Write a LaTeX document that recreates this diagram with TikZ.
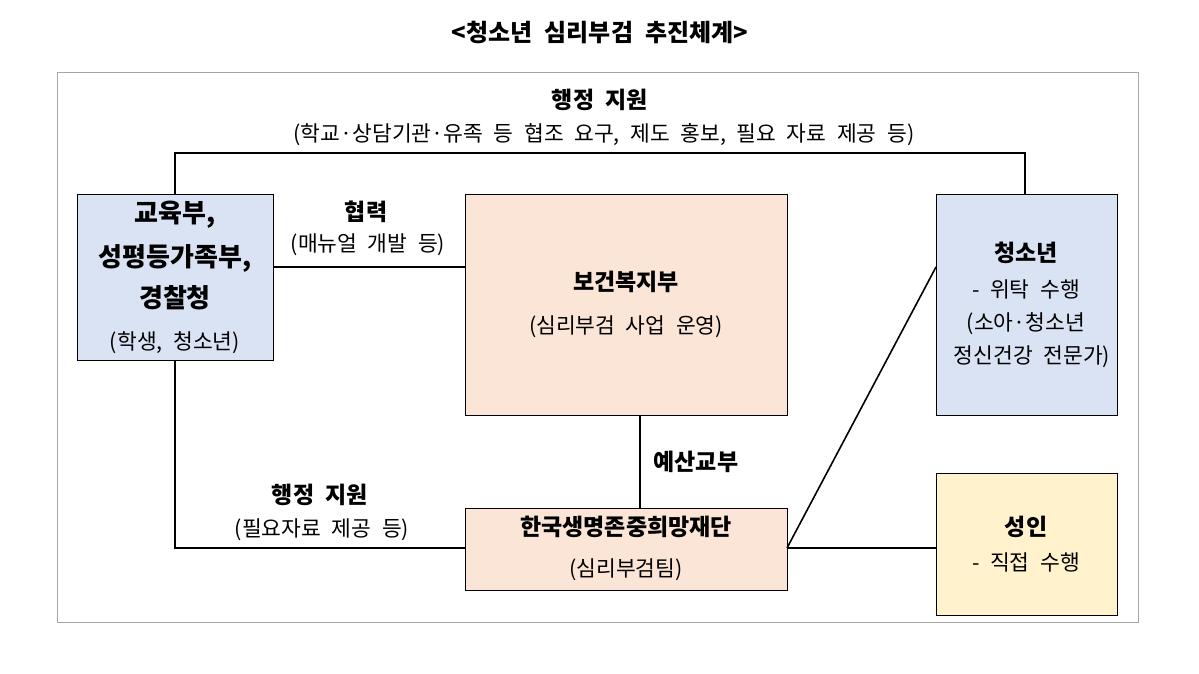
\documentclass[tikz,border=0pt]{standalone}
\usepackage{fontspec}
\setmainfont[WordSpace=2.2]{Noto Sans CJK KR}
\begin{document}
\begin{tikzpicture}[x=1pt,y=-1pt,
  box/.style={draw=black,line width=0.8pt},
  t/.style={font=\fontsize{21.5}{23}\selectfont},
  tb/.style={font=\fontsize{23}{25}\selectfont\bfseries},
  tbb/.style={font=\fontsize{26}{28}\selectfont\bfseries},
  ln/.style={line width=1.6pt}]
\useasboundingbox (0,0) rectangle (1199,673);
\definecolor{bl}{HTML}{DAE3F3}\definecolor{pc}{HTML}{FBE5D6}\definecolor{yl}{HTML}{FFF2CC}
\draw[gray!70] (57,72) rectangle (1138,622);
\node[font=\fontsize{24}{26}\selectfont\bfseries] (title) at (600,33) {<청소년 심리부검 추진체계>};
\draw[box,fill=bl] (77,194) rectangle (273,360);
\coordinate (Atop) at (175,194); \coordinate (Abot) at (175,360); \coordinate (Ar) at (273,267);
\node[tbb] (a1) at (175,215) {교육부,};
\node[tbb] (a2) at (175,258) {성평등가족부,};
\node[tbb] (a3) at (175,298) {경찰청};
\node[t] (a4) at (175,343) {(학생, 청소년)};
\draw[box,fill=pc] (465,194) rectangle (787,415);
\coordinate (Bl) at (465,267); \coordinate (Bb) at (640,415);
\node[tb] (b1) at (626,282) {보건복지부};
\node[t] (b2) at (626,327) {(심리부검 사업 운영)};
\draw[box,fill=pc] (465,508) rectangle (787,590);
\coordinate (Ct) at (640,508); \coordinate (Cl) at (465,548); \coordinate (Cr) at (787,548);
\node[tb] (c1) at (626,527) {한국생명존중희망재단};
\node[t] (c2) at (626,570) {(심리부검팀)};
\draw[box,fill=bl] (936,194) rectangle (1117,415);
\coordinate (Dt) at (1025,194); \coordinate (Dl) at (936,267);
\node[tb] (d1) at (1026,253) {청소년};
\node[t] (d2) at (1026,289) {- 위탁 수행};
\node[t] (d3) at (1026,324) {(소아·청소년};
\node[t] (d4) at (1032,357) {정신건강 전문가)};
\draw[box,fill=yl] (936,473) rectangle (1117,615);
\coordinate (El) at (936,548);
\node[tb] (e1) at (1026,527) {성인};
\node[t] (e2) at (1026,562) {- 직접 수행};
\draw[ln] (Atop) -- (175,153) -- (1025,153) -- (Dt);
\node[tb] (l1) at (600,100) {행정 지원};
\node[t] (l2) at (604,135) {(학교·상담기관·유족 등 협조 요구, 제도 홍보, 필요 자료 제공 등)};
\draw[ln] (Ar) -- (Bl);
\node[tb] (l3) at (366,212) {협력};
\node[t] (l4) at (368,245) {(매뉴얼 개발 등)};
\draw[ln] (Abot) -- (175,548) -- (Cl);
\node[tb] (l5) at (320,495) {행정 지원};
\node[t] (l6) at (322,530) {(필요자료 제공 등)};
\draw[ln] (Bb) -- (Ct);
\node[tb,anchor=west] (l7) at (650,462) {예산교부};
\draw[ln] (Cr) -- (Dl);
\draw[ln] (Cr) -- (El);
\end{tikzpicture}
\end{document}
